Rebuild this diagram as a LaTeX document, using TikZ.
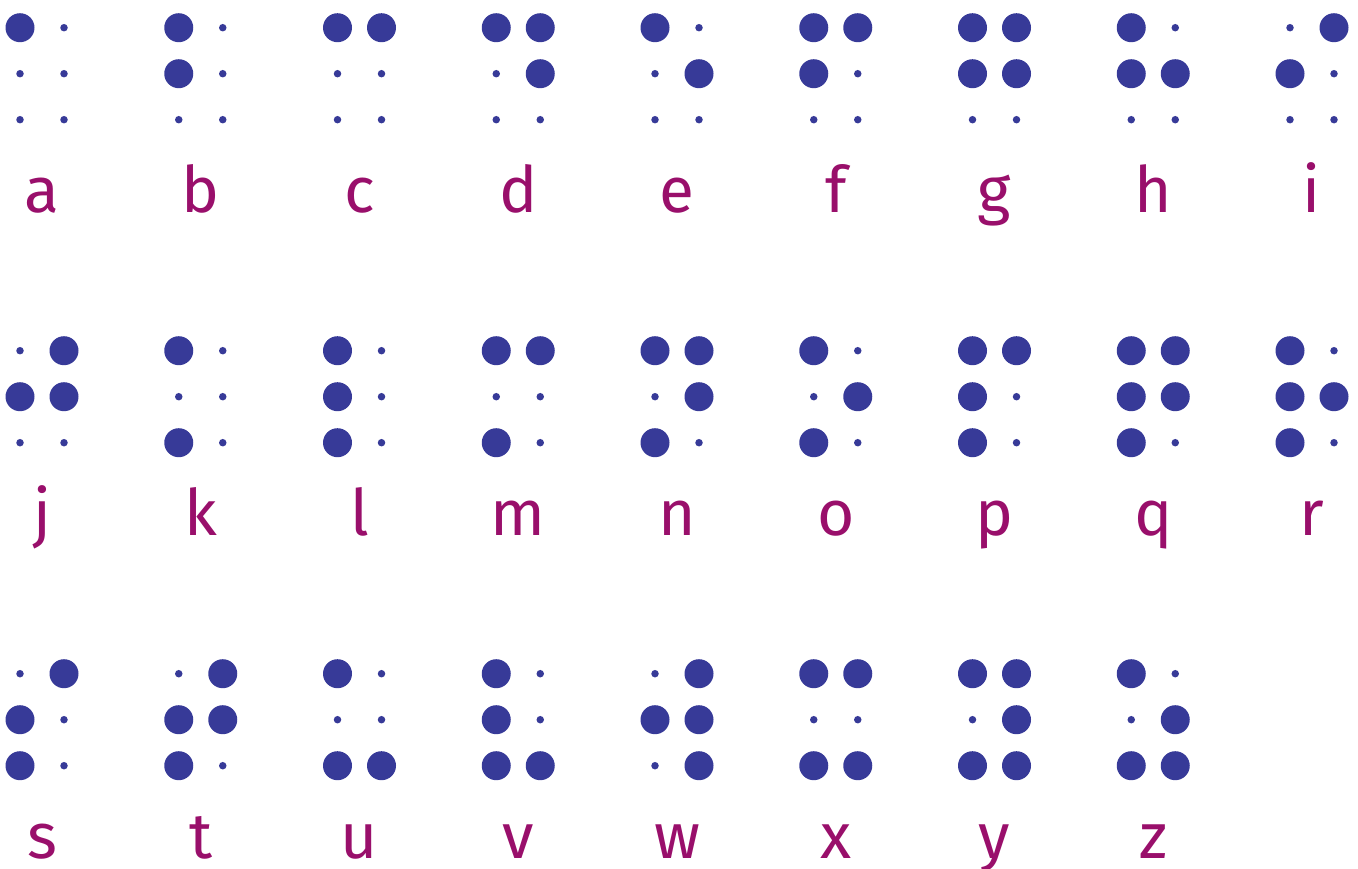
\documentclass[tikz,border=0pt]{standalone}
\usepackage{fontspec}
\setmainfont{Fira Sans}
\usepackage{tikz}
\usetikzlibrary{positioning}
\definecolor{dotblue}{HTML}{373A98}
\definecolor{letterpink}{HTML}{990F6B}
\tikzset{
  flatdot/.style={circle,fill=dotblue,inner sep=0pt,minimum size=7.5pt},
  raiseddot/.style={circle,fill=dotblue,inner sep=0pt,minimum size=29pt},
  glyph/.style={text=letterpink,anchor=base,inner sep=0pt,
                font=\fontsize{64}{64}\selectfont}
}

\begin{document}
\begin{tikzpicture}[x=1pt,y=-1pt]
  \useasboundingbox (0,0) rectangle (1358,868);
  \foreach \ch/\pins [count=\n from 0] in {a/{1},b/{1,2},c/{1,4},d/{1,4,5},
      e/{1,5},f/{1,2,4},g/{1,2,4,5},h/{1,2,5},i/{2,4},
      j/{2,4,5},k/{1,3},l/{1,2,3},m/{1,3,4},n/{1,3,4,5},o/{1,3,5},
      p/{1,2,3,4},q/{1,2,3,4,5},r/{1,2,3,5},
      s/{2,3,4},t/{2,3,4,5},u/{1,3,6},v/{1,2,3,6},w/{2,4,5,6},
      x/{1,3,4,6},y/{1,3,4,5,6},z/{1,3,5,6}}{
    \pgfmathsetmacro{\cx}{20+158.75*mod(\n,9)}
    \pgfmathsetmacro{\cy}{27.7+323*int(\n/9)}
    % the six places of the cell
    \foreach \k in {1,...,6}{
      \pgfmathsetmacro{\dx}{\cx+44*int((\k-1)/3)}
      \pgfmathsetmacro{\dy}{\cy+46*mod(\k-1,3)}
      \node[flatdot] (\ch\k) at (\dx,\dy) {};
    }
    % raised ones
    \foreach \k in \pins{
      \node[raiseddot] (\ch\k-up) at (\ch\k) {};
    }
    \node[glyph] (lbl-\ch) at (\cx+22,\cy+184.5) {\ch};
  }
\end{tikzpicture}
\end{document}
